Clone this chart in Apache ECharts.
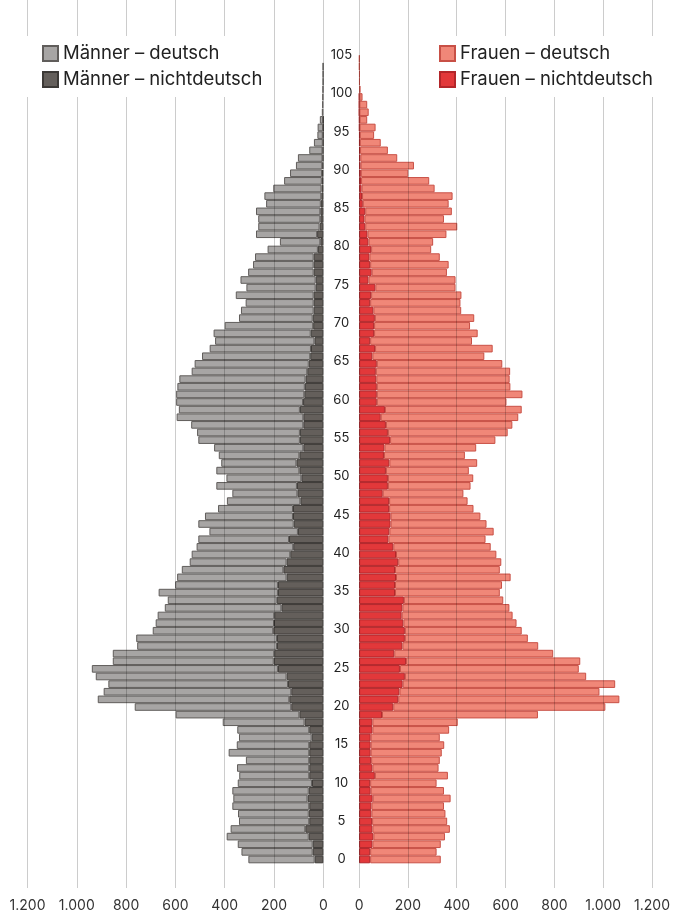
<!DOCTYPE html>
<html>
<head>
<meta charset="utf-8">
<title>Bevölkerungspyramide</title>
<script src="https://cdn.jsdelivr.net/npm/echarts@6/dist/echarts.min.js"></script>
<style>
    html, body { margin: 0; padding: 0; background: #fff; }
    #chart { width: 673px; height: 913px; }
</style>
</head>
<body>
<div id="chart"></div>
<script>
    // Alter 0 .. 105 (unten nach oben)
    const ages = [];
    for (let a = 0; a <= 105; a++) ages.push(a);

    const menDeutsch = [
        269, 289, 304, 333, 303, 285, 287, 312, 301, 310,
        301, 284, 293, 257, 327, 294, 295, 292, 332, 502,
        635, 777, 761, 729, 774, 755, 653, 655, 567, 571,
        489, 480, 473, 473, 442, 484, 417, 444, 412, 393,
        400, 392, 368, 359, 387, 357, 304, 298, 264, 327,
        304, 337, 305, 327, 362, 412, 417, 455, 514, 491,
        515, 520, 517, 512, 469, 463, 439, 411, 403, 394,
        359, 299, 295, 276, 316, 281, 305, 266, 246, 238,
        204, 164, 248, 249, 252, 261, 222, 231, 196, 153,
        130, 107, 100, 54, 36, 22, 22, 13, 6, 5,
        4, 3, 2, 2, 2, 0
    ];
    const menNichtdeutsch = [
        35, 43, 43, 59, 73, 57, 59, 57, 64, 59,
        46, 57, 57, 57, 57, 57, 47, 57, 76, 97,
        130, 138, 130, 143, 149, 184, 201, 199, 188, 188,
        203, 200, 199, 170, 189, 184, 184, 149, 162, 149,
        134, 122, 139, 103, 120, 123, 123, 93, 105, 107,
        89, 97, 109, 97, 81, 95, 95, 81, 81, 95,
        82, 77, 75, 72, 65, 59, 53, 50, 36, 51,
        41, 43, 39, 39, 39, 31, 31, 39, 39, 39,
        22, 12, 25, 15, 12, 12, 10, 8, 7, 6,
        5, 4, 3, 3, 2, 2, 1, 1, 0, 0,
        0, 0, 0, 0, 0, 0
    ];
    const womenDeutsch = [
        287, 270, 278, 291, 315, 305, 301, 295, 317, 298,
        270, 297, 269, 279, 289, 299, 281, 312, 347, 634,
        862, 899, 813, 864, 737, 727, 708, 646, 552, 500,
        475, 460, 451, 435, 404, 426, 435, 466, 426, 419,
        408, 396, 395, 424, 390, 365, 343, 319, 328, 336,
        347, 337, 357, 329, 373, 428, 487, 514, 559, 556,
        527, 592, 543, 542, 546, 510, 455, 478, 414, 421,
        390, 404, 357, 367, 367, 326, 354, 306, 319, 286,
        244, 263, 321, 374, 323, 352, 349, 368, 297, 277,
        193, 217, 150, 113, 85, 58, 65, 31, 38, 32,
        13, 6, 3, 3, 2, 2
    ];
    const womenNichtdeutsch = [
        45, 45, 54, 58, 54, 53, 50, 50, 55, 47,
        45, 64, 54, 49, 47, 47, 47, 54, 54, 93,
        139, 159, 164, 177, 186, 166, 191, 143, 176, 186,
        186, 180, 173, 176, 182, 146, 146, 150, 146, 159,
        150, 139, 119, 123, 128, 128, 122, 122, 96, 117,
        117, 109, 123, 101, 103, 126, 117, 109, 88, 105,
        72, 72, 72, 70, 68, 72, 54, 65, 45, 61,
        61, 64, 58, 45, 49, 66, 38, 51, 45, 42,
        49, 38, 34, 25, 22, 25, 15, 12, 10, 8,
        7, 6, 5, 4, 3, 3, 2, 2, 1, 1,
        1, 0, 0, 0, 0, 0
    ];

    const FONT = 'Inter, "Noto Sans", sans-serif';
    const fmt = v => String(v).replace(/\B(?=(\d{3})+(?!\d))/g, '.');

    const L = { left: 27.5, width: 295.8 };
    const R = { left: 359.1, width: 295.2 };
    const barTop = 55.05, barHeight = 808.25;

    function lineAxis(gridIndex, inverse) {
        return {
            gridIndex: gridIndex, type: 'value', min: 0, max: 1200, interval: 200,
            inverse: inverse, z: 5,
            axisLine: { show: false }, axisTick: { show: false },
            axisLabel: { formatter: fmt, color: '#333', fontSize: 14, fontFamily: FONT, margin: 11 },
            splitLine: { show: true, lineStyle: { color: 'rgba(0,0,0,0.2)', width: 1 } }
        };
    }
    function barSeries(name, data, xi, color, border) {
        return {
            name: name, type: 'bar', stack: 's' + xi,
            xAxisIndex: xi, yAxisIndex: xi,
            // leere Altersjahre nicht zeichnen (sonst bleibt ein Rahmenstrich)
            data: data.map(v => (v > 0 ? v : '-')),
            barCategoryGap: '0%',
            itemStyle: { color: color, borderColor: border, borderWidth: 1 },
            emphasis: { disabled: true }
        };
    }
    function legend(names, left) {
        return {
            data: names, orient: 'vertical', left: left, top: 36, z: 10,
            backgroundColor: '#fff', padding: [8, 8, 8, 18],
            itemWidth: 15, itemHeight: 15, itemGap: 7, icon: 'rect',
            textStyle: { fontSize: 18.5, lineHeight: 19, color: '#222', fontFamily: FONT }
        };
    }

    const chart = echarts.init(document.getElementById('chart'));
    chart.setOption({
        animation: false,
        backgroundColor: '#fff',
        textStyle: { fontFamily: FONT },
        grid: [
            { left: L.left, width: L.width, top: 0, height: 888 },
            { left: R.left, width: R.width, top: 0, height: 888 },
            { left: L.left, width: L.width, top: barTop, height: barHeight },
            { left: R.left, width: R.width, top: barTop, height: barHeight },
            { left: 341.5, width: 1, top: 55, height: 804.3 }
        ],
        xAxis: [
            lineAxis(0, true),
            lineAxis(1, false),
            { gridIndex: 2, type: 'value', min: 0, max: 1200, inverse: true, show: false },
            { gridIndex: 3, type: 'value', min: 0, max: 1200, show: false },
            { gridIndex: 4, type: 'value', show: false }
        ],
        yAxis: [
            { gridIndex: 0, type: 'value', show: false },
            { gridIndex: 1, type: 'value', show: false },
            { gridIndex: 2, type: 'category', data: ages, show: false },
            { gridIndex: 3, type: 'category', data: ages, show: false },
            {
                gridIndex: 4, type: 'value', min: 0, max: 105, interval: 5,
                axisLine: { show: false }, axisTick: { show: false }, splitLine: { show: false },
                axisLabel: { margin: 0, align: 'center', color: '#222', fontSize: 13, fontFamily: FONT }
            }
        ],
        legend: [
            legend(['Männer – deutsch', 'Männer – nichtdeutsch'], 24),
            legend(['Frauen – deutsch', 'Frauen – nichtdeutsch'], 421)
        ],
        series: [
            barSeries('Männer – nichtdeutsch', menNichtdeutsch, 2, '#645f5b', '#3c3936'),
            barSeries('Männer – deutsch', menDeutsch, 2, '#a7a5a4', '#605d5b'),
            barSeries('Frauen – nichtdeutsch', womenNichtdeutsch, 3, '#e2383a', '#b3262a'),
            barSeries('Frauen – deutsch', womenDeutsch, 3, '#f08778', '#c85046')
        ]
    });
</script>
</body>
</html>
